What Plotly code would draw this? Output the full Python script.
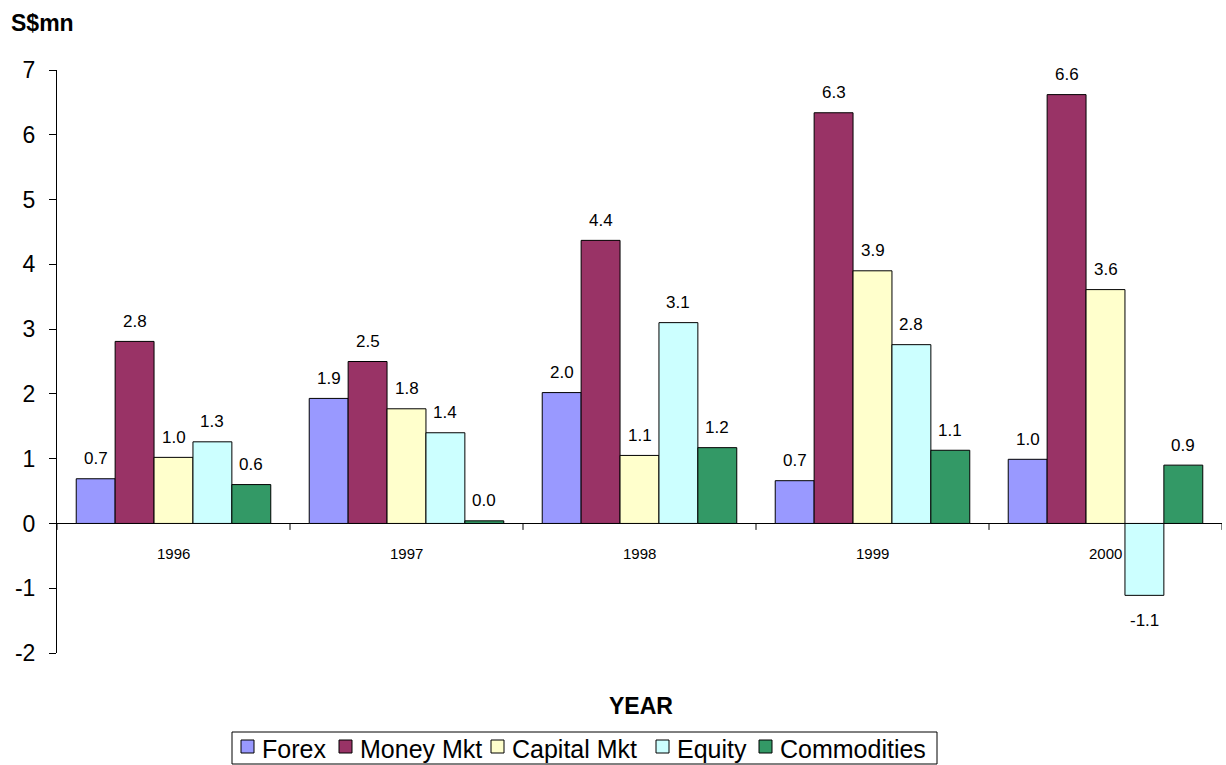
import plotly.graph_objects as go

years = ["1996", "1997", "1998", "1999", "2000"]
series_names = ["Forex", "Money Mkt", "Capital Mkt", "Equity", "Commodities"]
forex = [0.69, 1.93, 2.02, 0.66, 0.99]
money_mkt = [2.81, 2.50, 4.37, 6.34, 6.62]
capital_mkt = [1.02, 1.77, 1.05, 3.90, 3.61]
equity = [1.26, 1.40, 3.10, 2.76, -1.11]
commodities = [0.60, 0.04, 1.17, 1.13, 0.90]
colors = ["#9999FF", "#993366", "#FFFFCC", "#CCFFFF", "#339966"]
y_ticks = [-2, -1, 0, 1, 2, 3, 4, 5, 6, 7]
y_ticktext = ["-2", "-1", "0", "1", "2", "3", "4", "5", "6", "7"]

FONT = "Liberation Sans, Arial, sans-serif"
W, H = 1226, 765
ML, MR, MT, MB = 57, 4, 70, 112
PW, PH = W - ML - MR, H - MT - MB
BARGAP = 0.165


def px_x(px):
    return (px - ML) / PW


def px_y(py):
    return (H - MB - py) / PH


all_series = [forex, money_mkt, capital_mkt, equity, commodities]
n = len(years)
k = len(series_names)
bar_w = PW / n * (1 - BARGAP) / k

fig = go.Figure()
for name, vals, col in zip(series_names, all_series, colors):
    fig.add_trace(go.Bar(
        name=name, x=years, y=vals,
        marker=dict(color=col, line=dict(color="black", width=1)),
        showlegend=False, cliponaxis=False,
    ))

shapes = []
for i in range(n + 1):
    shapes.append(dict(type="line", xref="x", yref="y", x0=i - 0.5, x1=i - 0.5,
                       y0=0, y1=-0.1, line=dict(color="black", width=1)))

annotations = []
# data labels
for j, vals in enumerate(all_series):
    for i, v in enumerate(vals):
        annotations.append(dict(
            x=i, y=v, xref="x", yref="y", text=f"{v:.1f}", showarrow=False,
            xshift=(j - (k - 1) / 2) * bar_w, yshift=20 if v >= 0 else -25,
            font=dict(family=FONT, size=17, color="black")))
# category labels
for i, yr in enumerate(years):
    annotations.append(dict(x=i, y=0, xref="x", yref="y", text=yr, showarrow=False,
                            yshift=-30, font=dict(family=FONT, size=15, color="black")))
# axis titles
annotations.append(dict(x=px_x(9), y=px_y(23), xref="paper", yref="paper", xanchor="left",
                        yanchor="middle", text="<b>S$mn</b>", showarrow=False,
                        font=dict(family=FONT, size=23, color="black")))
annotations.append(dict(x=px_x(641), y=px_y(706), xref="paper", yref="paper", xanchor="center",
                        yanchor="middle", text="<b>YEAR</b>", showarrow=False,
                        font=dict(family=FONT, size=23, color="black")))

# legend (drawn manually to match the compact Excel-style legend)
shapes.append(dict(type="rect", xref="paper", yref="paper", x0=px_x(232), x1=px_x(937),
                   y0=px_y(764), y1=px_y(732), line=dict(color="black", width=1),
                   fillcolor="white"))
leg_text_x = [262, 360, 512, 677, 780]
for name, col, tx in zip(series_names, colors, leg_text_x):
    mx = tx - 21
    shapes.append(dict(type="rect", xref="paper", yref="paper", x0=px_x(mx), x1=px_x(mx + 13),
                       y0=px_y(753), y1=px_y(740), line=dict(color="black", width=1),
                       fillcolor=col))
    annotations.append(dict(x=px_x(tx), y=px_y(749), xref="paper", yref="paper",
                            xanchor="left", yanchor="middle", text=name, showarrow=False,
                            xshift=-2, font=dict(family=FONT, size=25, color="black")))

fig.update_layout(
    width=W, height=H,
    margin=dict(l=ML, r=MR, t=MT, b=MB, autoexpand=False),
    paper_bgcolor="white", plot_bgcolor="white",
    barmode="group", bargap=BARGAP, bargroupgap=0,
    font=dict(family=FONT, color="black"),
    showlegend=False,
    xaxis=dict(type="category", range=[-0.5, n - 0.5], showticklabels=False, showline=False,
               showgrid=False, zeroline=False, ticks="", automargin=False),
    yaxis=dict(range=[-2, 7], tickvals=y_ticks, ticktext=y_ticktext, showgrid=False,
               showline=True, linecolor="black", linewidth=1, ticks="outside", ticklen=7,
               tickcolor="black", tickfont=dict(family=FONT, size=23), zeroline=True,
               zerolinecolor="black", zerolinewidth=1, ticklabelstandoff=9, automargin=False),
    shapes=shapes, annotations=annotations,
)

fig.write_html("out.html")
